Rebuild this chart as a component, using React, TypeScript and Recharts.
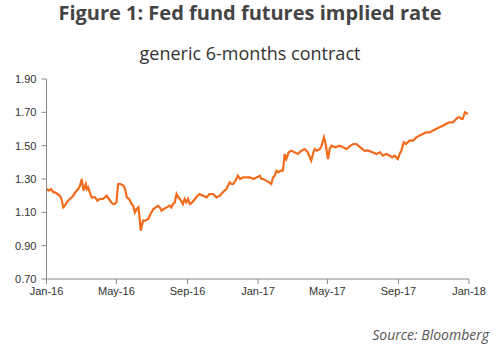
import React from 'react';
import { LineChart, Line, XAxis, YAxis } from 'recharts';

// days since 1 Jan 2016
const days = [
  0, 4, 8, 12, 15, 19, 23, 26, 29, 32, 35, 40, 44, 48, 52, 55, 58, 61, 64, 66, 68, 70, 72, 75,
  78, 84, 88, 92, 97, 101, 104, 108, 112, 115, 118, 121, 124, 128, 133, 136, 139, 143, 147, 150,
  153, 156, 159, 161, 163, 165, 167, 171, 176, 180, 185, 189, 193, 196, 199, 203, 208, 213, 216,
  219, 222, 225, 228, 231, 236, 239, 242, 245, 248, 252, 257, 261, 265, 271, 277, 282, 288, 294,
  300, 305, 311, 314, 317, 320, 323, 327, 331, 335, 340, 346, 352, 358, 364, 369, 372, 375, 380,
  385, 389, 392, 395, 398, 401, 405, 409, 411, 412, 414, 415, 419, 424, 429, 435, 441, 447, 452,
  458, 461, 464, 468, 473, 476, 480, 483, 487, 490, 493, 500, 507, 513, 519, 526, 531, 536, 543,
  550, 557, 564, 571, 577, 582, 588, 594, 598, 602, 605, 608, 611, 614, 618, 622, 628, 634, 640,
  645, 651, 657, 663, 668, 674, 680, 686, 691, 697, 703, 709, 712, 715, 718, 720, 724, 729,
];

const rates = [
  1.24, 1.23, 1.24, 1.22, 1.22, 1.21, 1.2, 1.18, 1.13, 1.14, 1.16, 1.18, 1.19, 1.21, 1.23, 1.24,
  1.26, 1.3, 1.23, 1.25, 1.27, 1.24, 1.25, 1.22, 1.19, 1.19, 1.17, 1.18, 1.18, 1.19, 1.2, 1.18,
  1.16, 1.15, 1.15, 1.16, 1.27, 1.27, 1.26, 1.24, 1.19, 1.18, 1.15, 1.14, 1.1, 1.12, 1.13, 1.07,
  0.99, 1.02, 1.05, 1.05, 1.06, 1.09, 1.12, 1.13, 1.14, 1.13, 1.11, 1.12, 1.13, 1.14, 1.13, 1.15,
  1.16, 1.21, 1.19, 1.18, 1.15, 1.18, 1.16, 1.18, 1.15, 1.16, 1.18, 1.2, 1.21, 1.2, 1.19, 1.21,
  1.21, 1.19, 1.2, 1.22, 1.24, 1.26, 1.28, 1.27, 1.27, 1.29, 1.32, 1.3, 1.31, 1.31, 1.31, 1.3,
  1.31, 1.32, 1.3, 1.3, 1.29, 1.28, 1.27, 1.31, 1.32, 1.35, 1.34, 1.35, 1.35, 1.41, 1.45, 1.43,
  1.42, 1.46, 1.47, 1.46, 1.45, 1.47, 1.48, 1.46, 1.41, 1.45, 1.48, 1.47, 1.48, 1.5, 1.55, 1.51,
  1.42, 1.48, 1.5, 1.49, 1.5, 1.49, 1.48, 1.5, 1.51, 1.51, 1.49, 1.47, 1.47, 1.46, 1.45, 1.46,
  1.44, 1.45, 1.44, 1.43, 1.44, 1.43, 1.42, 1.45, 1.47, 1.52, 1.51, 1.53, 1.53, 1.55, 1.56, 1.57,
  1.58, 1.58, 1.59, 1.6, 1.61, 1.62, 1.63, 1.64, 1.64, 1.66, 1.67, 1.67, 1.66, 1.66, 1.7, 1.69,
  1.71, 1.72,
];

const tickDays = [0, 121, 244, 366, 486, 609, 731];
const tickLabels = ['Jan-16', 'May-16', 'Sep-16', 'Jan-17', 'May-17', 'Sep-17', 'Jan-18'];
const yTicks = [0.7, 0.9, 1.1, 1.3, 1.5, 1.7, 1.9];

const data = days.map((d, i) => ({ day: d, rate: rates[i] }));

const tickStyle = { fontFamily: '"Liberation Sans", Arial, sans-serif', fontSize: 11, fill: '#333' };

export default function App() {
  return (
    <div style={{ position: 'absolute', left: 0, top: 0, width: 500, height: 352, background: '#fff' }}>
      <div
        style={{
          position: 'absolute', left: 0, top: -2, width: 500, textAlign: 'center',
          fontFamily: '"Open Sans", sans-serif', fontWeight: 700, fontSize: 20, color: '#444',
          lineHeight: '30px',
        }}
      >
        Figure 1: Fed fund futures implied rate
      </div>
      <div
        style={{
          position: 'absolute', left: 0, top: 40, width: 500, textAlign: 'center',
          fontFamily: '"Open Sans", sans-serif', fontWeight: 400, fontSize: 18, color: '#333',
          lineHeight: '26px',
        }}
      >
        generic 6-months contract
      </div>
      <LineChart
        width={500}
        height={352}
        data={data}
        margin={{ top: 79, right: 31, bottom: 43, left: 0 }}
        style={{ position: 'absolute', left: 0, top: 0 }}
      >
        <XAxis
          dataKey="day"
          type="number"
          domain={[0, 731]}
          ticks={tickDays}
          tickFormatter={(v: number) => tickLabels[tickDays.indexOf(v)]}
          interval={0}
          stroke="#888"
          tickSize={5}
          tickMargin={3}
          tick={tickStyle}
        />
        <YAxis
          type="number"
          domain={[0.7, 1.9]}
          ticks={yTicks}
          tickFormatter={(v: number) => v.toFixed(2)}
          interval={0}
          width={46.5}
          stroke="#888"
          tickSize={5}
          tickMargin={5}
          tick={tickStyle}
        />
        <Line
          type="linear"
          dataKey="rate"
          stroke="#F26A1B"
          strokeWidth={2.2}
          dot={false}
          isAnimationActive={false}
        />
      </LineChart>
      <div
        style={{
          position: 'absolute', right: 11, top: 325,
          fontFamily: '"Open Sans", sans-serif', fontStyle: 'italic', fontSize: 14, color: '#555',
        }}
      >
        Source: Bloomberg
      </div>
    </div>
  );
}
